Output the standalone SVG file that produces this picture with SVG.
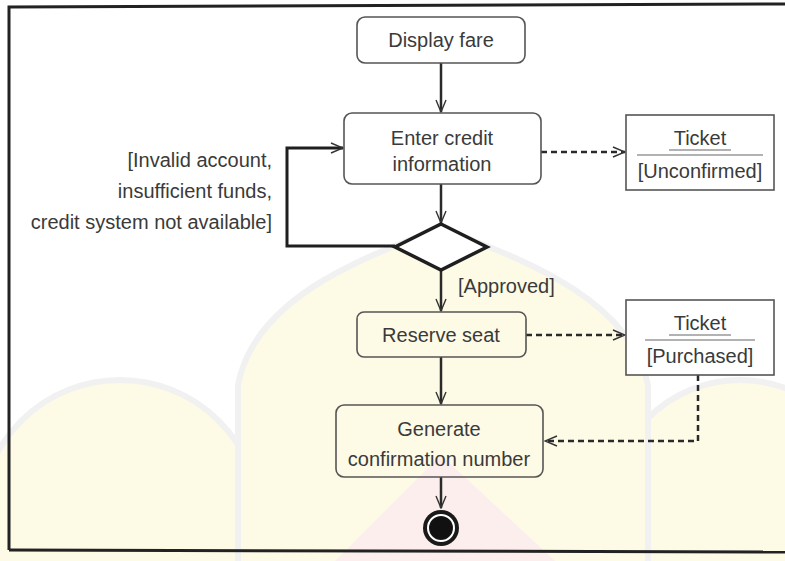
<svg xmlns="http://www.w3.org/2000/svg" width="785" height="561" viewBox="0 0 785 561">
  <defs>
    <marker id="open" viewBox="0 0 14 12" refX="13" refY="6" markerWidth="14" markerHeight="12" markerUnits="userSpaceOnUse" orient="auto">
      <path d="M1,1 L13,6 L1,11" fill="none" stroke="#333" stroke-width="1.4"/>
    </marker>
  </defs>
  <style>
    .node rect { fill: none; stroke: #555; stroke-width: 1.6; }
    .obj rect { fill: #ffffff; stroke: #555; stroke-width: 1.6; }
    .obj line { stroke: #666; stroke-width: 1.2; }
    text { font-family: "Liberation Sans", Arial, sans-serif; font-size: 20px; fill: #3a3a3a; text-anchor: middle; }
    .lbl { text-anchor: end; }
    .lbl2 { text-anchor: start; }
    .flow { fill: none; stroke: #2a2a2a; stroke-width: 2.5; marker-end: url(#open); }
    .loop { fill: none; stroke: #1f1f1f; stroke-width: 3; marker-end: url(#open); }
    .dep { fill: none; stroke: #2a2a2a; stroke-width: 2.5; stroke-dasharray: 6 4; marker-end: url(#open); }
    .wm-y { fill: #fdfae6; stroke: #f1f1f1; stroke-width: 6; }
    .wm-p { fill: #fdeeee; stroke: none; }
  </style>
  <rect x="0" y="0" width="785" height="561" fill="#ffffff"/>
  <!-- faint background watermark -->
  <g id="watermark">
    <circle class="wm-y" cx="120" cy="520" r="140"/>
    <circle class="wm-y" cx="740" cy="510" r="130"/>
    <path class="wm-y" d="M441,228 C380,252 255,292 238,385 L238,565 L648,565 L648,385 C630,292 500,252 441,228 Z"/>
    <path class="wm-p" d="M335,561 L441,455 L555,561 Z"/>
  </g>
  <!-- frame -->
  <g id="frame" fill="none" stroke="#222" stroke-width="3">
    <path d="M9,550 L9,7 L785,4"/>
    <path d="M9,550 L785,552"/>
  </g>
  <g id="connectors">
    <line class="flow" x1="441" y1="63" x2="441" y2="112"/>
    <line class="flow" x1="441" y1="184" x2="441" y2="223"/>
    <path class="loop" d="M395,246 L287,246 L287,148 L343,148"/>
    <line class="flow" x1="441" y1="270" x2="441" y2="311"/>
    <line class="flow" x1="441" y1="357" x2="441" y2="404"/>
    <line class="flow" x1="441" y1="477" x2="441" y2="508"/>
    <line class="dep" x1="541" y1="152" x2="625" y2="152"/>
    <line class="dep" x1="526" y1="335" x2="625" y2="335"/>
    <path class="dep" d="M698,375 L698,441 L545,441"/>
    <text class="lbl" x="272" y="167">[Invalid account,</text>
    <text class="lbl" x="272" y="198">insufficient funds,</text>
    <text class="lbl" x="272" y="229">credit system not available]</text>
    <text class="lbl2" x="458" y="293">[Approved]</text>
  </g>
  <g id="display-fare" class="node">
    <rect x="357" y="17" width="168" height="46" rx="8"/>
    <text x="441" y="47">Display fare</text>
  </g>
  <g id="enter-credit" class="node">
    <rect x="344" y="113" width="197" height="71" rx="8"/>
    <text x="442" y="145">Enter credit</text>
    <text x="442" y="171">information</text>
  </g>
  <g id="decision">
    <polygon points="441,224 487,247 441,270 395,247" fill="#ffffff" stroke="#1f1f1f" stroke-width="3.5" stroke-linejoin="miter"/>
  </g>
  <g id="reserve-seat" class="node">
    <rect x="357" y="312" width="169" height="45" rx="7"/>
    <text x="441" y="342">Reserve seat</text>
  </g>
  <g id="generate" class="node">
    <rect x="336" y="405" width="207" height="72" rx="8"/>
    <text x="439" y="436">Generate</text>
    <text x="439" y="466">confirmation number</text>
  </g>
  <g id="ticket-unconfirmed" class="obj">
    <rect x="626" y="115" width="148" height="75"/>
    <text x="700" y="145">Ticket</text>
    <line x1="669" y1="150" x2="731" y2="150"/>
    <line x1="637" y1="155" x2="763" y2="155"/>
    <text x="700" y="178">[Unconfirmed]</text>
  </g>
  <g id="ticket-purchased" class="obj">
    <rect x="626" y="300" width="148" height="75"/>
    <text x="700" y="330">Ticket</text>
    <line x1="669" y1="335" x2="731" y2="335"/>
    <line x1="645" y1="340" x2="755" y2="340"/>
    <text x="700" y="363">[Purchased]</text>
  </g>
  <g id="final-node">
    <circle cx="441" cy="528" r="18" fill="#1a1a1a"/>
    <circle cx="441" cy="528" r="13" fill="none" stroke="#ffffff" stroke-width="2"/>
    <circle cx="441" cy="528" r="11" fill="#111"/>
  </g>
</svg>
